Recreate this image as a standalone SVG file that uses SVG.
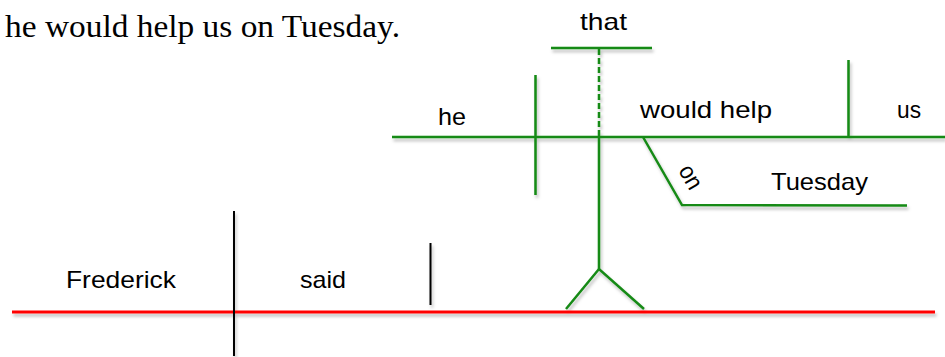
<svg xmlns="http://www.w3.org/2000/svg" width="945" height="357" viewBox="0 0 945 357">
<defs>
<filter id="sh" x="-5%" y="-20%" width="110%" height="140%">
<feDropShadow dx="1.5" dy="3" stdDeviation="1.5" flood-color="#000" flood-opacity="0.25"/>
</filter>
<style>
.g{stroke:#168a16;stroke-width:2.5;fill:none;stroke-linecap:butt}
.k{stroke:#000;stroke-width:2;fill:none}
.r{stroke:#ff0000;stroke-width:3;fill:none}
.t{font-family:"Liberation Sans",Arial,sans-serif;font-size:24px;fill:#000}
.s{font-family:"Liberation Serif","Times New Roman",serif;font-size:31px;fill:#000}
</style>
</defs>
<rect width="945" height="357" fill="#fff"/>
<text class="s" x="5" y="37" textLength="395" lengthAdjust="spacingAndGlyphs">he would help us on Tuesday.</text>
<g id="connectors" filter="url(#sh)">
<line class="r" x1="12" y1="312" x2="935" y2="312"/>
<line class="k" x1="234" y1="211" x2="234" y2="356"/>
<line class="k" x1="430.5" y1="243" x2="430.5" y2="305"/>
<line class="g" x1="551" y1="48" x2="652" y2="48"/>
<line class="g" x1="599" y1="49" x2="599" y2="130" stroke-dasharray="6 3"/>
<line class="g" x1="599" y1="130" x2="599" y2="269"/>
<polyline class="g" points="566,309 599,269 644,309"/>
<line class="g" x1="392" y1="137" x2="945" y2="137"/>
<line class="g" x1="535.5" y1="75" x2="535.5" y2="195"/>
<line class="g" x1="848.5" y1="60" x2="848.5" y2="137"/>
<polyline class="g" points="643,137 682,205 907,205.5"/>
</g>
<g id="frederick"><text class="t" x="66" y="288" textLength="110" lengthAdjust="spacingAndGlyphs">Frederick</text></g>
<g id="said"><text class="t" x="300" y="288" textLength="46" lengthAdjust="spacingAndGlyphs">said</text></g>
<g id="that"><text class="t" x="580" y="30" textLength="47" lengthAdjust="spacingAndGlyphs">that</text></g>
<g id="he"><text class="t" x="438" y="125" textLength="28" lengthAdjust="spacingAndGlyphs">he</text></g>
<g id="would-help"><text class="t" x="640" y="118" textLength="132" lengthAdjust="spacingAndGlyphs">would help</text></g>
<g id="us"><text class="t" x="897" y="118" textLength="24" lengthAdjust="spacingAndGlyphs">us</text></g>
<g id="on"><text class="t" transform="translate(691,177) rotate(60)" x="-12" y="8" textLength="24" lengthAdjust="spacingAndGlyphs">on</text></g>
<g id="tuesday"><text class="t" x="771" y="190" textLength="97" lengthAdjust="spacingAndGlyphs">Tuesday</text></g>
</svg>
